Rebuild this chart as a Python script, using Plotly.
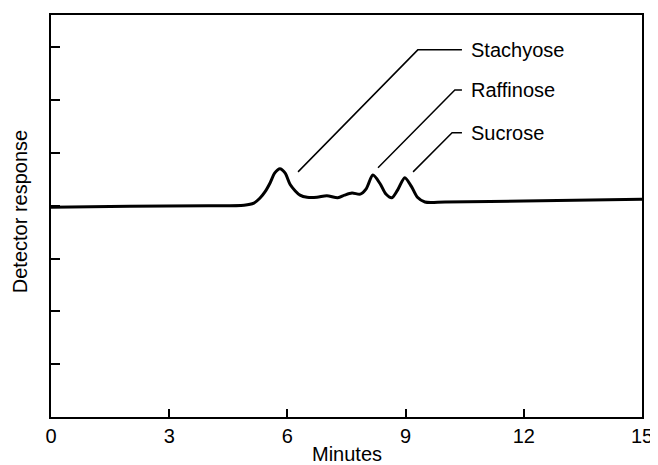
import plotly.graph_objects as go

# Chromatogram trace (minutes, detector response in tick units)
minutes = [0, 2, 4, 4.9, 5.15, 5.3, 5.43, 5.56, 5.68, 5.81, 5.94, 6.07, 6.2, 6.32,
           6.5, 6.75, 7.0, 7.28, 7.45, 7.64, 7.85, 8.0, 8.17, 8.35, 8.5, 8.65,
           8.8, 8.98, 9.15, 9.3, 9.49, 10, 12, 15]
response = [3.97, 3.99, 4.0, 4.01, 4.05, 4.14, 4.26, 4.43, 4.62, 4.70, 4.62, 4.40,
            4.28, 4.20, 4.16, 4.16, 4.19, 4.15, 4.20, 4.24, 4.22, 4.32, 4.58, 4.42,
            4.22, 4.15, 4.30, 4.53, 4.36, 4.16, 4.07, 4.07, 4.09, 4.12]

x_ticks = [0, 3, 6, 9, 12, 15]
y_ticks = [1, 2, 3, 4, 5, 6, 7]

# Peak labels with leader line anchor points (peak end, bend, end)
labels = ["Stachyose", "Raffinose", "Sucrose"]
lead_start_x = [6.27, 8.30, 9.19]
lead_start_y = [4.64, 4.72, 4.64]
lead_bend_x = [9.31, 10.25, 10.18]
lead_bend_y = [6.95, 6.19, 5.38]
lead_end_x = [10.43, 10.43, 10.43]
label_x = 10.62

FONT = "Liberation Sans, Arial, sans-serif"

fig = go.Figure()
fig.add_trace(go.Scatter(
    x=minutes, y=response, mode="lines",
    line=dict(color="black", width=3, shape="spline", smoothing=0.8),
    hoverinfo="skip", showlegend=False, cliponaxis=False))

for i, lab in enumerate(labels):
    fig.add_trace(go.Scatter(
        x=[lead_start_x[i], lead_bend_x[i], lead_end_x[i]],
        y=[lead_start_y[i], lead_bend_y[i], lead_bend_y[i]],
        mode="lines", line=dict(color="black", width=1.5),
        hoverinfo="skip", showlegend=False))
    fig.add_annotation(x=label_x, y=lead_bend_y[i], text=lab, showarrow=False,
                       xanchor="left", yanchor="middle",
                       font=dict(family=FONT, size=20, color="black"))

fig.add_annotation(xref="paper", yref="paper", x=0.5, y=-0.091, text="Minutes",
                   showarrow=False, xanchor="center", yanchor="middle",
                   font=dict(family=FONT, size=20, color="black"))
fig.add_annotation(xref="paper", yref="paper", x=-0.052, y=0.51,
                   text="Detector response", textangle=-90, showarrow=False,
                   xanchor="center", yanchor="middle",
                   font=dict(family=FONT, size=20, color="black"))

fig.update_xaxes(range=[0, 15], tickvals=x_ticks, ticktext=[str(v) for v in x_ticks],
                 ticks="inside", ticklen=8, tickwidth=1.5, tickcolor="black",
                 showline=True, linecolor="black", linewidth=2, mirror=True,
                 showgrid=False, zeroline=False, automargin=False,
                 tickfont=dict(family=FONT, size=20, color="black"))
fig.update_yaxes(range=[0, 7.61], tickvals=y_ticks, showticklabels=False,
                 ticks="inside", ticklen=9, tickwidth=1.5, tickcolor="black",
                 showline=True, linecolor="black", linewidth=2, mirror=True,
                 showgrid=False, zeroline=False, automargin=False)

# The page body adds an 8px offset, so the figure is 8px smaller than the window
fig.update_layout(width=650, height=457,
                  margin=dict(l=43, r=16, t=7, b=48),
                  plot_bgcolor="white", paper_bgcolor="white",
                  font=dict(family=FONT, color="black"))

fig.write_html("out.html")
